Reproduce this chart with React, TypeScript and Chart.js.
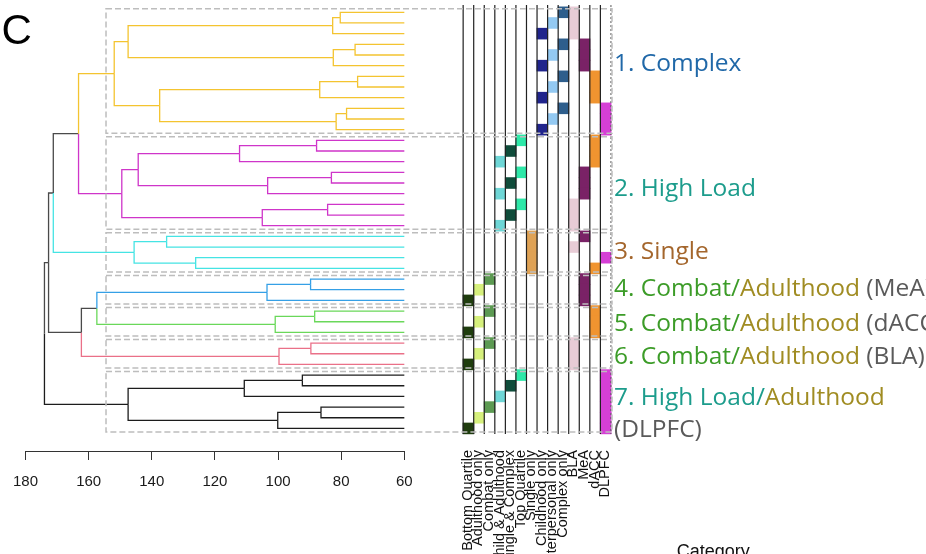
import React, { useEffect, useRef } from 'react';
import { Chart, registerables } from 'chart.js';

Chart.register(...registerables);

// ---------------- DATA ----------------
const clusterSizes = [12, 9, 4, 3, 3, 3, 6];
const clusterColors = ['#F4C430', '#CF35C9', '#45E4E4', '#35A0E6', '#6AD85A', '#EA7088', '#1C1C1C'];
const trunkColor = '#4A4A4A';
const leafHeight = 60;

// hclust-style merges: [a, b, height]; negative = leaf -(index+1), positive = earlier merge (1-based)
const merges: [number, number, number][] = [
  [-1, -2, 80.3], [1, -3, 82.7], [-4, -5, 75.6], [3, -6, 82.5], [2, 4, 147.5],
  [-7, -8, 74.8], [6, -9, 86.8], [-10, -11, 78.3], [8, -12, 81.6], [7, 9, 137.5],
  [5, 10, 151.9],
  [-13, -14, 87.8], [12, -15, 112.2], [-16, -17, 83.1], [14, -18, 103.3], [13, 15, 144.3],
  [-19, -20, 84.3], [17, -21, 105.0], [16, 18, 149.5],
  [11, 19, 163.2],
  [-22, -23, 135.3], [-24, -25, 126.1], [21, 22, 145.6],
  [20, 23, 171.2],
  [-26, -27, 89.7], [25, -28, 103.5],
  [-29, -30, 88.4], [27, -31, 100.9],
  [-32, -33, 89.6], [29, -34, 99.7],
  [26, 28, 157.4], [31, 30, 162.3],
  [24, 32, 172.7],
  [-35, -36, 92.3], [34, -37, 110.7], [-38, -39, 86.4], [36, -40, 100.1], [35, 37, 147.5],
  [33, 38, 174.0],
];

const heightTicks = [180, 160, 140, 120, 100, 80, 60];

const categories = [
  'Bottom Quartile', 'Adulthood only', 'Combat only', 'Child & Adulthood', 'Single & Complex',
  'Top Quartile', 'Single only', 'Childhood only', 'Interpersonal only', 'Complex only',
  'BLA', 'MeA', 'dACC', 'DLPFC',
];
const categoryColors = [
  '#1F3D0E', '#D6F07C', '#5C9A52', '#6ED6D6', '#0F4C3A',
  '#2DE8A8', '#DFA255', '#20248C', '#93C9F2', '#2E5E8C',
  '#E8CCD6', '#7A2266', '#F09430', '#D63FD6',
];
const categoryRows = [
  [27, 30, 33, 39],
  [26, 29, 32, 38],
  [25, 28, 31, 37],
  [14, 17, 20, 36],
  [13, 16, 19, 35],
  [12, 15, 18, 34],
  [21, 22, 23, 24],
  [2, 5, 8, 11],
  [1, 4, 7, 10],
  [0, 3, 6, 9],
  [0, 1, 2, 18, 19, 20, 22, 31, 32, 33],
  [3, 4, 5, 15, 16, 17, 21, 25, 26, 27],
  [6, 7, 8, 12, 13, 14, 24, 28, 29, 30],
  [9, 10, 11, 23, 34, 35, 36, 37, 38, 39],
];

const BLUE = '#2068A8';
const TEAL = '#1C9C8C';
const BROWN = '#A4662C';
const GREEN = '#3C9C28';
const OLIVE = '#A08C22';
const GREY = '#5A5A5A';
const clusterLabels: [string, string][][] = [
  [['1. Complex', BLUE]],
  [['2. High Load', TEAL]],
  [['3. Single', BROWN]],
  [['4. Combat/', GREEN], ['Adulthood', OLIVE], [' (MeA)', GREY]],
  [['5. Combat/', GREEN], ['Adulthood', OLIVE], [' (dACC)', GREY]],
  [['6. Combat/', GREEN], ['Adulthood', OLIVE], [' (BLA)', GREY]],
  [['7. High Load/', TEAL], ['Adulthood', OLIVE]],
  [['(DLPFC)', GREY]],
];
const panelLetter = 'C';
const legendTitle = 'Category';

// ---------------- LAYOUT ----------------
const W = 926;
const H = 554;
const PX_PER_UNIT = 380 / 120;
const X_AT_180 = 22.7;
const X_MAX = 180 + X_AT_180 / PX_PER_UNIT;
const X_MIN = 180 - (W - X_AT_180) / PX_PER_UNIT;
const HEAT_LEFT = 461.7;
const COL_W = 10.59;
const XH_MIN = -HEAT_LEFT / COL_W;
const XH_MAX = (W - HEAT_LEFT) / COL_W;
const ROW_H = 10.67;
const ROW0 = 12.3;
const AXIS_Y = 451;
const Y_MIN = -ROW0 / ROW_H;
const Y_MAX = (AXIS_Y - ROW0) / ROW_H;
const TICK_LEN = 9;
const TICK_PAD = 13;
const TICK_FONT = 15;
const BOTTOM_PAD = H - AXIS_Y - (TICK_LEN + 2 * TICK_PAD + TICK_FONT * 1.2);
const LINE_TOP = -0.68;
const LINE_BOTTOM = 39.52;
const BOX_LEFT = 154.5;
const BOX_RIGHT = 14.1;
const LABEL_X = 614;
const LABEL_BASELINES = [71, 196, 259, 296, 331, 364, 405, 437];

function buildEdges() {
  const leafCluster: number[] = [];
  clusterSizes.forEach((n, k) => { for (let i = 0; i < n; i++) leafCluster.push(k); });
  const nodes: { h: number; y: number; cl: number }[] = [];
  const info = (id: number) => (id < 0 ? { h: leafHeight, y: -id - 1, cl: leafCluster[-id - 1] } : nodes[id - 1]);
  const edges: { pts: { x: number; y: number }[]; color: string }[] = [];
  merges.forEach(([a, b, h]) => {
    const A = info(a);
    const B = info(b);
    const y = (A.y + B.y) / 2;
    const cl = A.cl === B.cl ? A.cl : -1;
    nodes.push({ h, y, cl });
    [A, B].forEach((C) => {
      edges.push({
        pts: [{ x: h, y }, { x: h, y: C.y }, { x: C.h, y: C.y }],
        color: C.cl >= 0 ? clusterColors[C.cl] : trunkColor,
      });
    });
  });
  return edges;
}

const decorPlugin = {
  id: 'decor',
  afterDatasetsDraw(chart: any) {
    const { ctx, scales } = chart;
    const x = scales.x;
    const xh = scales.xh;
    const y = scales.y;
    ctx.save();
    ctx.strokeStyle = '#BDBDBD';
    ctx.lineWidth = 1.5;
    ctx.setLineDash([6, 3]);
    let start = 0;
    clusterSizes.forEach((n) => {
      const top = y.getPixelForValue(start - 0.33);
      const bot = y.getPixelForValue(start + n - 1 + 0.33);
      const l = x.getPixelForValue(BOX_LEFT);
      const r = xh.getPixelForValue(BOX_RIGHT);
      ctx.strokeRect(l, top, r - l, bot - top);
      start += n;
    });
    ctx.restore();
  },
  afterDraw(chart: any) {
    const { ctx, scales } = chart;
    const x = scales.x;
    const xh = scales.xh;
    ctx.save();
    ctx.strokeStyle = '#333';
    ctx.lineWidth = 1;
    ctx.beginPath();
    ctx.moveTo(x.getPixelForValue(heightTicks[0]), Math.round(x.top) + 0.5);
    ctx.lineTo(x.getPixelForValue(heightTicks[heightTicks.length - 1]), Math.round(x.top) + 0.5);
    ctx.stroke();

    ctx.fillStyle = '#000';
    ctx.font = '42px "Liberation Sans", Arial, sans-serif';
    ctx.textBaseline = 'alphabetic';
    ctx.textAlign = 'left';
    ctx.fillText(panelLetter, 1.5, 44);

    ctx.font = '24.5px "Open Sans", sans-serif';
    clusterLabels.forEach((segs, i) => {
      let cx = LABEL_X;
      segs.forEach(([t, c]) => {
        ctx.fillStyle = c;
        ctx.fillText(t, cx, LABEL_BASELINES[i]);
        cx += ctx.measureText(t).width;
      });
    });

    ctx.fillStyle = '#111';
    ctx.font = '14.5px "Liberation Sans", Arial, sans-serif';
    categories.forEach((c, i) => {
      const px = xh.getPixelForValue(i + 0.5) - 0.5;
      ctx.save();
      ctx.translate(px, 450);
      ctx.rotate(-Math.PI / 2);
      ctx.textAlign = 'right';
      ctx.textBaseline = 'middle';
      ctx.fillText(c, 0, 0);
      ctx.restore();
    });

    ctx.font = '18px "Liberation Sans", Arial, sans-serif';
    ctx.fillStyle = '#111';
    ctx.textAlign = 'left';
    ctx.textBaseline = 'alphabetic';
    ctx.fillText(legendTitle, 676.7, 556.5);
    ctx.restore();
  },
};

export default function App() {
  const ref = useRef<HTMLCanvasElement>(null);
  useEffect(() => {
    if (!ref.current) return;
    const edges = buildEdges();
    const datasets: any[] = [];
    for (let c = 0; c <= categories.length; c++) {
      const last = c === categories.length;
      datasets.push({
        type: 'scatter',
        xAxisID: 'xh',
        yAxisID: 'y',
        data: [{ x: c, y: LINE_TOP }, { x: c, y: LINE_BOTTOM }],
        showLine: true,
        pointRadius: 0,
        borderColor: last ? '#555' : '#222',
        borderWidth: last ? 1 : 1.2,
        borderDash: last ? [2, 2] : [],
        order: 0,
      });
    }
    categories.forEach((c, i) => {
      datasets.push({
        type: 'scatter',
        label: c,
        xAxisID: 'xh',
        yAxisID: 'y',
        data: categoryRows[i].map((r) => ({ x: i + 0.5, y: r })),
        pointStyle: 'rect',
        pointRadius: (ctx: any) => {
          const s = ctx.chart.scales.y;
          const h = Math.abs(s.getPixelForValue(1) - s.getPixelForValue(0));
          return (h + 0.9) / Math.SQRT2;
        },
        pointBackgroundColor: categoryColors[i],
        pointBorderWidth: 0,
        borderWidth: 0,
        order: 1,
      });
    });
    edges.forEach((e) => {
      datasets.push({
        type: 'scatter',
        xAxisID: 'x',
        yAxisID: 'y',
        data: e.pts,
        showLine: true,
        pointRadius: 0,
        borderColor: e.color,
        borderWidth: 1.3,
        tension: 0,
        fill: false,
        order: 2,
      });
    });

    const chart = new Chart(ref.current, {
      type: 'scatter',
      data: { datasets },
      options: {
        responsive: false,
        animation: false,
        events: [],
        devicePixelRatio: 1,
        layout: { padding: { left: 0, right: 0, top: 0, bottom: BOTTOM_PAD } },
        plugins: { legend: { display: false }, tooltip: { enabled: false } },
        scales: {
          x: {
            type: 'linear',
            position: 'bottom',
            reverse: true,
            min: X_MIN,
            max: X_MAX,
            afterBuildTicks: (s: any) => { s.ticks = heightTicks.map((v) => ({ value: v })); },
            grid: { drawOnChartArea: false, drawTicks: true, tickLength: TICK_LEN, color: '#333', lineWidth: 1 },
            border: { display: false },
            ticks: {
              font: { family: '"Liberation Sans", Arial, sans-serif', size: TICK_FONT },
              color: '#1a1a1a',
              padding: TICK_PAD,
              maxRotation: 0,
              autoSkip: false,
            },
          },
          xh: { type: 'linear', display: false, min: XH_MIN, max: XH_MAX },
          y: { type: 'linear', display: false, reverse: true, min: Y_MIN, max: Y_MAX },
        },
      } as any,
      plugins: [decorPlugin],
    });
    return () => chart.destroy();
  }, []);

  return (
    <div style={{ position: 'fixed', left: 0, top: 0, width: W, height: H, background: '#fff' }}>
      <canvas ref={ref} width={W} height={H} style={{ display: 'block', width: W, height: H }} />
    </div>
  );
}
